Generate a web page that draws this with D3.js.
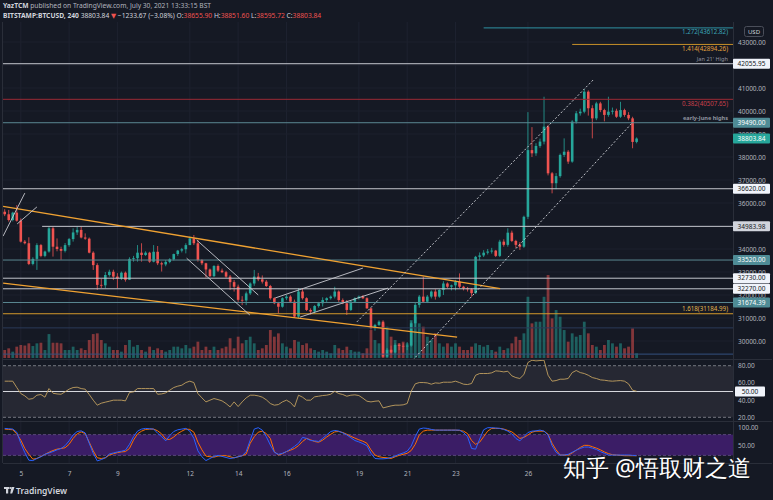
<!DOCTYPE html>
<html>
<head>
<meta charset="utf-8">
<title>BTCUSD 240</title>
<script src="https://cdn.jsdelivr.net/npm/d3@7/dist/d3.min.js"></script>
<style>
  body { margin: 0; background: #151924; }
  svg text { font-family: "Noto Sans", "DejaVu Sans", sans-serif; }
</style>
</head>
<body>
<svg id="chart" width="773" height="500"></svg>
<script>
// 4h candles, Jul 4 08:00 -> Jul 30 12:00 (index 0..157)
const opens = [
  35620,35510,35260,35580,35230,34320,34250,33350,33570,34170,
  33700,33890,34900,34100,34000,33920,34170,34430,34720,34830,
  34500,34450,33840,33300,32440,32420,32870,33010,32800,32720,
  32970,32660,33570,33600,33840,33740,33840,33450,33880,33380,
  33330,33440,33550,33780,33930,33990,34170,34460,34250,33520,
  33380,33110,32820,33260,33060,32990,32800,32560,32360,31790,
  31760,32070,32500,32800,32680,32580,32390,31860,31640,31490,
  31860,31930,31710,31060,32150,31860,31350,31280,31520,31640,
  31780,31860,31930,32150,31780,31640,31350,31710,31860,31930,
  31860,31420,30550,30700,30840,29320,29620,29500,29830,29790,
  29760,29800,30770,31570,31930,31710,31930,32150,31930,32220,
  32500,32360,32420,32580,32360,32290,32250,32080,33660,33720,
  33840,33890,33930,33700,34320,34180,34710,34350,34180,34100,
  35400,38300,38160,38480,38670,39320,37290,36860,37170,38090,
  38230,37800,39540,39900,39970,40840,40120,39680,40330,40040,
  39830,39970,40010,39750,40040,39830,39680,38655.9
];
const highs = [
  35730,35700,35620,35910,35330,34390,34510,33640,34250,34220,
  33930,34970,34970,34460,34100,34260,34480,34900,34970,34970,
  34680,34500,33900,33380,32700,33000,33100,33100,32950,33020,
  33020,33640,33700,34170,34250,33900,33880,34170,34130,33450,
  33520,33600,33800,33960,34050,34250,34540,34610,34390,33560,
  33400,33150,33300,33330,33150,33050,32870,32650,32450,31950,
  32150,32550,33090,32960,32850,32650,32440,31900,31700,31900,
  32000,31990,31800,32300,32300,31900,31420,31560,31700,31900,
  31900,31980,32360,32200,31850,31780,31750,31900,31980,32000,
  31900,31450,30750,30900,30900,29700,29800,29900,29900,29900,
  29950,30850,31650,32000,32800,32000,32200,32250,32250,32600,
  32550,32450,32650,32940,32400,32350,32300,33700,33850,33950,
  34000,34050,33960,34400,34420,34900,34800,34400,34300,35450,
  39950,39300,38600,38800,40620,39400,37350,37300,38150,38810,
  38300,39600,40000,40100,40950,40900,40250,40400,40400,40100,
  40620,40150,40100,40400,40100,39950,39750,38851.6
];
const lows = [
  35430,35190,35200,35190,34280,34200,33300,33290,33090,33640,
  33640,33840,33670,33900,33530,33850,34100,34320,34610,34460,
  34400,33810,33090,32220,32300,32290,32800,32650,32290,32650,
  32580,32650,33450,33450,33450,33700,33400,33420,33300,33020,
  33250,33380,33500,33700,33850,33810,34170,34170,33450,33300,
  32760,32780,32780,33000,32950,32750,32220,32150,31700,31560,
  31560,32000,32400,32600,32500,32350,31800,31600,31200,31450,
  31780,31650,31000,31000,31800,31300,31150,31200,31450,31500,
  31700,31800,31850,31700,31600,31130,31300,31650,31800,31820,
  31400,30500,30450,30650,29280,29280,29400,29450,29600,29500,
  29600,29750,30600,31450,31650,31650,31850,31800,31880,32000,
  32300,32200,32200,32300,32200,32150,31930,32050,33500,33650,
  33760,33800,33650,33650,34100,34100,34300,34050,33960,34050,
  35300,38000,38050,38400,38550,37200,36420,36600,37100,38000,
  37700,37750,39450,39800,39900,39800,38810,39600,39950,39550,
  39750,39850,39700,39700,39750,39600,38380,38595.72
];
const closes = [
  35510,35260,35580,35230,34320,34250,33350,33570,34170,33700,
  33890,34900,34100,34000,33920,34170,34430,34720,34830,34500,
  34450,33840,33300,32440,32420,32870,33010,32800,32720,32970,
  32660,33570,33600,33840,33740,33840,33450,33880,33380,33330,
  33440,33550,33780,33930,33990,34170,34460,34250,33520,33380,
  33110,32820,33260,33060,32990,32800,32560,32360,31790,31760,
  32070,32500,32800,32680,32580,32390,31860,31640,31490,31860,
  31930,31710,31060,32150,31860,31350,31280,31520,31640,31780,
  31860,31930,32150,31780,31640,31350,31710,31860,31930,31860,
  31420,30550,30700,30840,29320,29620,29500,29830,29790,29760,
  29800,30770,31570,31930,31710,31930,32150,31930,32220,32500,
  32360,32420,32580,32360,32290,32250,32080,33660,33720,33840,
  33890,33930,33700,34320,34180,34710,34350,34180,34100,35400,
  38300,38160,38480,38670,39320,37290,36860,37170,38090,38230,
  37800,39540,39900,39970,40840,40120,39680,40330,40040,39830,
  39970,40010,39750,40040,39830,39680,38655.9,38803.84
];
const volumes = [
  770,930,610,1090,1250,1200,1410,1150,1410,1470,
  770,2300,1470,1470,1410,770,770,1090,770,930,
  770,1730,2300,2370,1730,1410,1090,770,770,610,
  1250,1730,1090,1250,770,610,1090,770,930,770,
  610,770,1090,1090,930,1250,930,1090,1570,770,
  1090,770,1090,770,930,1090,1900,930,2050,1410,
  1730,2050,1410,770,930,1250,2690,2050,2370,1410,
  1090,930,1730,1570,1250,1410,930,770,610,770,
  610,450,1250,930,770,1090,770,610,610,450,
  930,2690,1730,1410,3330,3010,2050,1730,1410,1570,
  1410,3650,3970,3330,3010,2050,1730,2370,1410,1090,
  1410,1090,1410,1090,770,770,1090,1410,1250,1090,
  1250,770,610,1090,770,930,1410,2050,1730,2370,
  5890,3330,3490,3490,5890,7980,3810,4610,3970,2690,
  1570,2370,2050,2210,3490,2370,1250,1090,770,1250,
  1730,1410,1090,1410,930,1090,2850,450
];
const rsi = [
  62.0,62.0,62.0,54.6,47.6,44.9,41.0,41.8,45.7,46.5,
  43.4,53.4,48.0,47.2,46.8,49.6,52.7,54.6,55.0,53.4,
  52.7,46.5,39.9,34.1,36.4,37.6,38.7,39.9,39.9,39.9,
  39.1,48.8,49.6,53.4,53.4,53.4,53.4,53.4,46.8,47.2,
  48.4,51.5,54.6,56.2,57.3,60.4,62.0,60.4,47.6,42.6,
  37.9,39.9,41.8,40.6,39.1,36.0,32.1,37.9,32.5,37.9,
  42.6,45.7,45.7,44.9,43.4,40.3,36.0,34.1,34.8,37.9,
  39.9,37.2,32.1,45.7,43.4,39.9,39.9,43.8,44.5,45.3,
  45.7,46.8,50.3,47.6,46.5,44.5,45.7,46.1,45.3,42.2,
  38.7,37.9,38.7,39.1,30.9,32.1,33.3,34.1,34.1,34.5,
  36.0,50.3,58.9,60.4,60.4,60.0,58.5,60.0,59.6,60.8,
  60.8,60.8,62.0,60.4,58.5,58.1,59.3,68.9,70.9,70.9,
  70.9,71.7,74.0,73.6,72.8,73.6,68.2,66.2,65.1,69.7,
  83.7,86.4,85.6,86.0,86.4,68.9,62.0,62.7,64.3,64.3,
  65.1,72.0,74.4,72.0,70.9,68.9,66.2,65.1,63.5,63.1,
  62.4,62.0,62.4,62.7,62.0,58.9,51.5,50.3
];
const stochK = [
  98,97,96,87,55,28,6,5,11,16,
  23,27,31,36,40,48,62,79,89,91,
  85,55,26,4,8,13,24,27,30,32,
  35,52,74,90,96,98,97,96,84,74,
  62,77,89,94,96,98,90,69,33,16,
  5,11,17,20,17,14,11,13,16,19,
  31,64,96,100,93,74,50,29,23,26,
  31,38,46,55,72,69,63,62,60,69,
  79,89,92,90,85,79,71,63,59,54,
  48,26,11,10,10,11,14,18,23,27,
  32,47,74,96,99,98,95,93,93,93,
  93,93,93,93,86,74,40,38,67,94,
  100,100,99,98,95,90,82,69,62,74,
  86,90,91,93,90,79,48,29,21,21,
  23,29,35,40,44,44,41,37,31,26,
  21,21,21,21,21,21,20,19
];
const stochD = [
  96,95,94,82,64,40,23,9,11,17,
  23,29,34,38,40,42,52,69,82,88,
  83,58,33,13,11,13,21,25,28,30,
  31,40,64,82,90,95,96,96,91,82,
  67,66,73,83,90,96,95,87,58,36,
  18,16,15,18,19,19,16,13,16,19,
  24,55,74,87,90,83,69,31,21,25,
  31,35,40,48,60,69,65,60,58,64,
  73,81,88,89,86,81,75,70,65,61,
  55,36,21,16,14,13,11,16,20,23,
  26,34,52,79,90,93,93,93,93,93,
  93,93,93,92,90,83,63,52,58,74,
  90,98,98,98,96,92,88,79,69,72,
  79,87,90,90,90,81,55,36,21,21,
  21,27,35,43,49,49,45,41,36,30,
  25,22,21,20,19,19,19,19
];

// time axis: candle index of each labelled midnight
const dayTicks = [4, 16, 28, 46, 58, 70, 88, 100, 112, 130];
const dayLabels = ["5", "7", "9", "12", "14", "16", "19", "21", "23", "26"];
const priceTicks = [30000,31000,32000,33000,34000,35000,36000,37000,38000,39000,40000,41000,42000,43000];
const rsiTicks = [20, 40, 60, 80];
const stochTicks = [50, 100];

// horizontal levels drawn on the chart (null start = whole width)
const levelPrices = [43612.82, 42894.26, 42055.95, 40507.65, 39490, 36620, 34983.98, 33520, 32730, 32270, 31674.39, 31184.99, 30570, 29430];
const levelStart  = [119, 141, null, null, null, null, 9.3, null, null, null, null, null, null, null];
const levelKind   = ["fibTeal","fibOrange","white","fibRed","teal","white","white","teal","white","white","teal","fibGold","dimBlue","blue"];

const noteTexts  = ["1.272(43612.82)", "1.414(42894.26)", "Jan 21' High", "0.382(40507.65)", "early-June highs", "1.618(31184.99)"];
const notePrices = [43612.82, 42894.26, 42055.95, 40507.65, 39490, 31184.99];
const noteKind   = ["fibTeal", "fibOrange", "muted", "fibRed", "muted", "fibGold"];
const noteBelow  = [true, true, false, true, false, false];

const boxPrices = [42055.95, 39490, 38803.84, 36620, 34983.98, 33520, 32730, 32270, 31674.39];
const boxKind   = ["white", "teal", "last", "white", "light", "teal", "white", "white", "teal"];

// trend lines as [index1, price1, index2, price2]
const orangeLines = [[-0.4, 35850, 123.1, 32280], [-0.4, 32520, 112.4, 30170]];
const whiteLines = [
  [-0.4, 34560, 5.0, 36430], [3.1, 35090, 8.0, 35830],
  [47.7, 34390, 63.0, 32000], [45.2, 33600, 60.9, 31130],
  [67.2, 31870, 89.0, 33170], [73.4, 31040, 95.2, 32300]
];
const dashedLines = [[87.5, 30830, 146.2, 41350], [101.4, 29170, 156.1, 39520]];

// ---- layout ----
const W = 773, H = 500;
const left = 3, right = 733;
const mainTop = 22, mainBottom = 359;
const rsiTop = 360, rsiBottom = 421;
const stTop = 422, stBottom = 463;
const up = "#26a69a", down = "#ef5350";

const styles = {
  white:     { line: "#c3c6cd", text: "#d1d4dc" },
  teal:      { line: "#5a8791", text: "#5a8791" },
  fibTeal:   { line: "#2e93a3", text: "#3aa6b8" },
  fibOrange: { line: "#c8912a", text: "#e6a23c" },
  fibRed:    { line: "#9b2a35", text: "#c9404b" },
  fibGold:   { line: "#d39a2c", text: "#e2b54c" },
  dimBlue:   { line: "#2b3a58", text: "#2b3a58" },
  blue:      { line: "#34507e", text: "#34507e" },
  muted:     { line: "#787b86", text: "#8f939e" }
};
const boxFill = { white: "#f0f3fa", light: "#d1d4dc", teal: "#4f8c96", last: "#26a69a" };
const boxText = { white: "#131722", light: "#131722", teal: "#ffffff", last: "#ffffff" };

const svg = d3.select("#chart");
svg.append("rect").attr("width", W).attr("height", H).attr("fill", "#151924");

const x = d3.scaleLinear().domain([0, 157]).range([4.7, 636.6]);
const y = d3.scaleLinear().domain([30000, 40000]).range([341, 111]);
const yVol = d3.scaleLinear().domain([0, 10000]).range([358, 254]);
const yRsi = d3.scaleLinear().domain([20, 80]).range([417.3, 365.7]);
const yStoch = d3.scaleLinear().domain([0, 100]).range([462.3, 427.7]);

const defs = svg.append("defs");
defs.append("clipPath").attr("id", "clipMain").append("rect")
  .attr("x", left).attr("y", mainTop).attr("width", right - left).attr("height", mainBottom - mainTop);
defs.append("clipPath").attr("id", "clipRsi").append("rect")
  .attr("x", left).attr("y", rsiTop).attr("width", right - left).attr("height", rsiBottom - rsiTop);
defs.append("clipPath").attr("id", "clipSt").append("rect")
  .attr("x", left).attr("y", stTop).attr("width", right - left).attr("height", stBottom - stTop);

// grid
const grid = svg.append("g");
grid.selectAll(".vg").data(dayTicks).enter().append("line")
  .attr("x1", d => x(d)).attr("x2", d => x(d))
  .attr("y1", mainTop).attr("y2", stBottom)
  .attr("stroke", "#1e2230").attr("stroke-width", 1);
grid.selectAll(".hg").data(priceTicks).enter().append("line")
  .attr("x1", left).attr("x2", right)
  .attr("y1", d => y(d)).attr("y2", d => y(d))
  .attr("stroke", "#1c202c").attr("stroke-width", 1);

// ---- main pane ----
const main = svg.append("g").attr("clip-path", "url(#clipMain)");
const idx = d3.range(closes.length);

main.selectAll(".vol").data(idx).enter().append("rect")
  .attr("x", i => x(i) - 1.4)
  .attr("width", 2.8)
  .attr("y", i => yVol(volumes[i]))
  .attr("height", i => yVol(0) - yVol(volumes[i]))
  .attr("fill", i => closes[i] >= opens[i] ? up : down)
  .attr("opacity", 0.5);

main.selectAll(".wick").data(idx).enter().append("line")
  .attr("x1", i => x(i)).attr("x2", i => x(i))
  .attr("y1", i => y(highs[i])).attr("y2", i => y(lows[i]))
  .attr("stroke", i => closes[i] >= opens[i] ? up : down)
  .attr("stroke-width", 0.8);

main.selectAll(".body").data(idx).enter().append("rect")
  .attr("x", i => x(i) - 1.3)
  .attr("width", 2.6)
  .attr("y", i => y(Math.max(opens[i], closes[i])))
  .attr("height", i => Math.max(0.8, Math.abs(y(opens[i]) - y(closes[i]))))
  .attr("fill", i => closes[i] >= opens[i] ? up : down);

// horizontal levels
main.selectAll(".level").data(levelPrices).enter().append("line")
  .attr("x1", (d, i) => levelStart[i] === null ? left : x(levelStart[i]))
  .attr("x2", right)
  .attr("y1", d => y(d)).attr("y2", d => y(d))
  .attr("stroke", (d, i) => styles[levelKind[i]].line)
  .attr("stroke-width", 1);

// trend lines
function drawSegs(data, color, width, dash) {
  main.selectAll(null).data(data).enter().append("line")
    .attr("x1", d => x(d[0])).attr("y1", d => y(d[1]))
    .attr("x2", d => x(d[2])).attr("y2", d => y(d[3]))
    .attr("stroke", color).attr("stroke-width", width)
    .attr("stroke-dasharray", dash);
}
drawSegs(orangeLines, "#f0a232", 1.3, null);
drawSegs(whiteLines, "#c8cad0", 0.9, null);
drawSegs(dashedLines, "#d6d8de", 0.9, "2,2");

// level notes
main.selectAll(".note").data(noteTexts).enter().append("text")
  .attr("x", 728)
  .attr("y", (d, i) => y(notePrices[i]) + (noteBelow[i] ? 6.5 : -2.5))
  .attr("text-anchor", "end")
  .attr("font-size", (d, i) => noteKind[i] === "muted" ? 5.6 : 6.2)
  .attr("font-weight", (d, i) => d === "early-June highs" ? 700 : 400)
  .attr("fill", (d, i) => styles[noteKind[i]].text)
  .text(d => d);

// ---- RSI pane ----
const rsiG = svg.append("g").attr("clip-path", "url(#clipRsi)");
rsiG.append("rect").attr("x", left).attr("width", right - left)
  .attr("y", yRsi(80)).attr("height", yRsi(20) - yRsi(80)).attr("fill", "#262833");
[80, 20].forEach(v => rsiG.append("line")
  .attr("x1", left).attr("x2", right).attr("y1", yRsi(v)).attr("y2", yRsi(v))
  .attr("stroke", "#8a8d96").attr("stroke-width", 0.8).attr("stroke-dasharray", "3,2"));
rsiG.append("line").attr("x1", left).attr("x2", right)
  .attr("y1", yRsi(50)).attr("y2", yRsi(50))
  .attr("stroke", "#d6d8de").attr("stroke-width", 1);
rsiG.append("path").datum(idx)
  .attr("fill", "none").attr("stroke", "#c2a060").attr("stroke-width", 0.9)
  .attr("d", d3.line().x(i => x(i)).y(i => yRsi(rsi[i])));

// ---- Stoch RSI pane ----
const stG = svg.append("g").attr("clip-path", "url(#clipSt)");
stG.append("rect").attr("x", left).attr("width", right - left)
  .attr("y", yStoch(80)).attr("height", yStoch(20) - yStoch(80)).attr("fill", "#3b1d66");
[80, 20].forEach(v => stG.append("line")
  .attr("x1", left).attr("x2", right).attr("y1", yStoch(v)).attr("y2", yStoch(v))
  .attr("stroke", "#6f5a90").attr("stroke-width", 0.7).attr("stroke-dasharray", "3,2"));
stG.append("path").datum(idx)
  .attr("fill", "none").attr("stroke", "#ff6d00").attr("stroke-width", 1)
  .attr("d", d3.line().x(i => x(i)).y(i => yStoch(stochD[i])));
stG.append("path").datum(idx)
  .attr("fill", "none").attr("stroke", "#2962ff").attr("stroke-width", 1)
  .attr("d", d3.line().x(i => x(i)).y(i => yStoch(stochK[i])));

// ---- separators ----
const sep = svg.append("g").attr("stroke", "#2a2e39").attr("stroke-width", 1);
[mainBottom + 0.5, rsiBottom + 0.5, stBottom + 0.5].forEach(v =>
  sep.append("line").attr("x1", left).attr("x2", 772).attr("y1", v).attr("y2", v));
sep.append("line").attr("x1", right + 0.5).attr("x2", right + 0.5).attr("y1", mainTop).attr("y2", stBottom + 14);
sep.append("line").attr("x1", left - 0.5).attr("x2", left - 0.5).attr("y1", mainTop).attr("y2", stBottom);

// ---- axes ----
function styleAxis(g) {
  g.select(".domain").remove();
  g.selectAll("text").attr("fill", "#b2b5be").attr("font-size", 6.5)
    .attr("font-family", "'Noto Sans', 'DejaVu Sans', sans-serif");
}
// price ticks that sit right under a level box are hidden by it, as on the chart
const shownPriceTicks = priceTicks.filter(t => boxPrices.every(b => Math.abs(y(t) - y(b)) > 4));
svg.append("g").attr("transform", `translate(${right + 1},0)`)
  .call(d3.axisRight(y).tickValues(shownPriceTicks).tickFormat(d => d.toFixed(2)).tickSize(0).tickPadding(4))
  .call(styleAxis);
svg.append("g").attr("transform", `translate(${right + 1},0)`)
  .call(d3.axisRight(yRsi).tickValues(rsiTicks).tickFormat(d => d.toFixed(2)).tickSize(0).tickPadding(4))
  .call(styleAxis);
svg.append("g").attr("transform", `translate(${right + 1},0)`)
  .call(d3.axisRight(yStoch).tickValues(stochTicks).tickFormat(d => d.toFixed(2)).tickSize(0).tickPadding(4))
  .call(styleAxis);
svg.append("g").attr("transform", `translate(0,${stBottom})`)
  .call(d3.axisBottom(x).tickValues(dayTicks).tickFormat((d, i) => dayLabels[i]).tickSize(0).tickPadding(8.5))
  .call(styleAxis);

// price boxes
const boxes = svg.append("g");
boxes.selectAll("rect").data(boxPrices).enter().append("rect")
  .attr("x", 733).attr("width", 37)
  .attr("y", d => y(d) - 5).attr("height", 10).attr("rx", 1)
  .attr("fill", (d, i) => boxFill[boxKind[i]]);
boxes.selectAll("text").data(boxPrices).enter().append("text")
  .attr("x", 751.5).attr("y", d => y(d)).attr("dy", "0.35em")
  .attr("text-anchor", "middle").attr("font-size", 6.5)
  .attr("fill", (d, i) => boxText[boxKind[i]])
  .text(d => d.toFixed(2));

// RSI 50 box
svg.append("rect").attr("x", 735).attr("width", 30).attr("y", yRsi(50) - 5).attr("height", 10)
  .attr("fill", "#f0f3fa").attr("rx", 1);
svg.append("text").attr("x", 750).attr("y", yRsi(50)).attr("dy", "0.35em")
  .attr("text-anchor", "middle").attr("font-size", 6.5).attr("fill", "#131722").text("50.00");

// USD tag
svg.append("rect").attr("x", 744.5).attr("y", 26.5).attr("width", 19).attr("height", 10).attr("rx", 2)
  .attr("fill", "#151924").attr("stroke", "#4a4e5a");
svg.append("text").attr("x", 754).attr("y", 31.5).attr("dy", "0.35em").attr("text-anchor", "middle")
  .attr("font-size", 6).attr("fill", "#d1d4dc").text("USD");

// ---- header ----
const h1 = svg.append("text").attr("x", 3).attr("y", 8).attr("font-size", 6.7);
h1.append("tspan").attr("font-weight", 700).attr("fill", "#d1d4dc").text("YazTCM");
h1.append("tspan").attr("fill", "#b2b5be").text(" published on TradingView.com, July 30, 2021 13:33:15 BST");

const h2 = svg.append("text").attr("x", 3).attr("y", 17.5).attr("font-size", 6.7);
h2.append("tspan").attr("font-weight", 700).attr("fill", "#d1d4dc").text("BITSTAMP:BTCUSD, 240");
h2.append("tspan").attr("fill", "#d1d4dc").text(" 38803.84 ");
h2.append("tspan").attr("fill", down).text("▼");
h2.append("tspan").attr("fill", "#d1d4dc").text(" −1233.67 (−3.08%) ");
const ohlc = [["O:", "38655.90"], ["H:", "38851.60"], ["L:", "38595.72"], ["C:", "38803.84"]];
ohlc.forEach(([k, v]) => {
  h2.append("tspan").attr("fill", "#d1d4dc").text(k);
  h2.append("tspan").attr("fill", down).text(v + " ");
});

// ---- footer: logo + watermark ----
const logo = svg.append("g").attr("fill", "#d1d4dc");
logo.append("rect").attr("x", 4).attr("y", 487).attr("width", 5).attr("height", 2);
logo.append("rect").attr("x", 6).attr("y", 487).attr("width", 2.2).attr("height", 6.5);
logo.append("circle").attr("cx", 10.3).attr("cy", 488).attr("r", 1.1);
logo.append("path").attr("d", "M11.5,487 L14.5,487 L12.2,493.5 L10.2,493.5 Z");
svg.append("text").attr("x", 16).attr("y", 493.5).attr("font-size", 8.5).attr("font-weight", 600)
  .attr("fill", "#d1d4dc").text("TradingView");

svg.append("text").attr("x", 564).attr("y", 477)
  .attr("font-family", "'Noto Sans CJK SC', sans-serif").attr("font-size", 23)
  .attr("fill", "rgba(0,0,0,0.35)").text("知乎 @悟取财之道");
svg.append("text").attr("x", 563).attr("y", 476)
  .attr("font-family", "'Noto Sans CJK SC', sans-serif").attr("font-size", 23)
  .attr("fill", "#ffffff").text("知乎 @悟取财之道");
</script>
</body>
</html>
